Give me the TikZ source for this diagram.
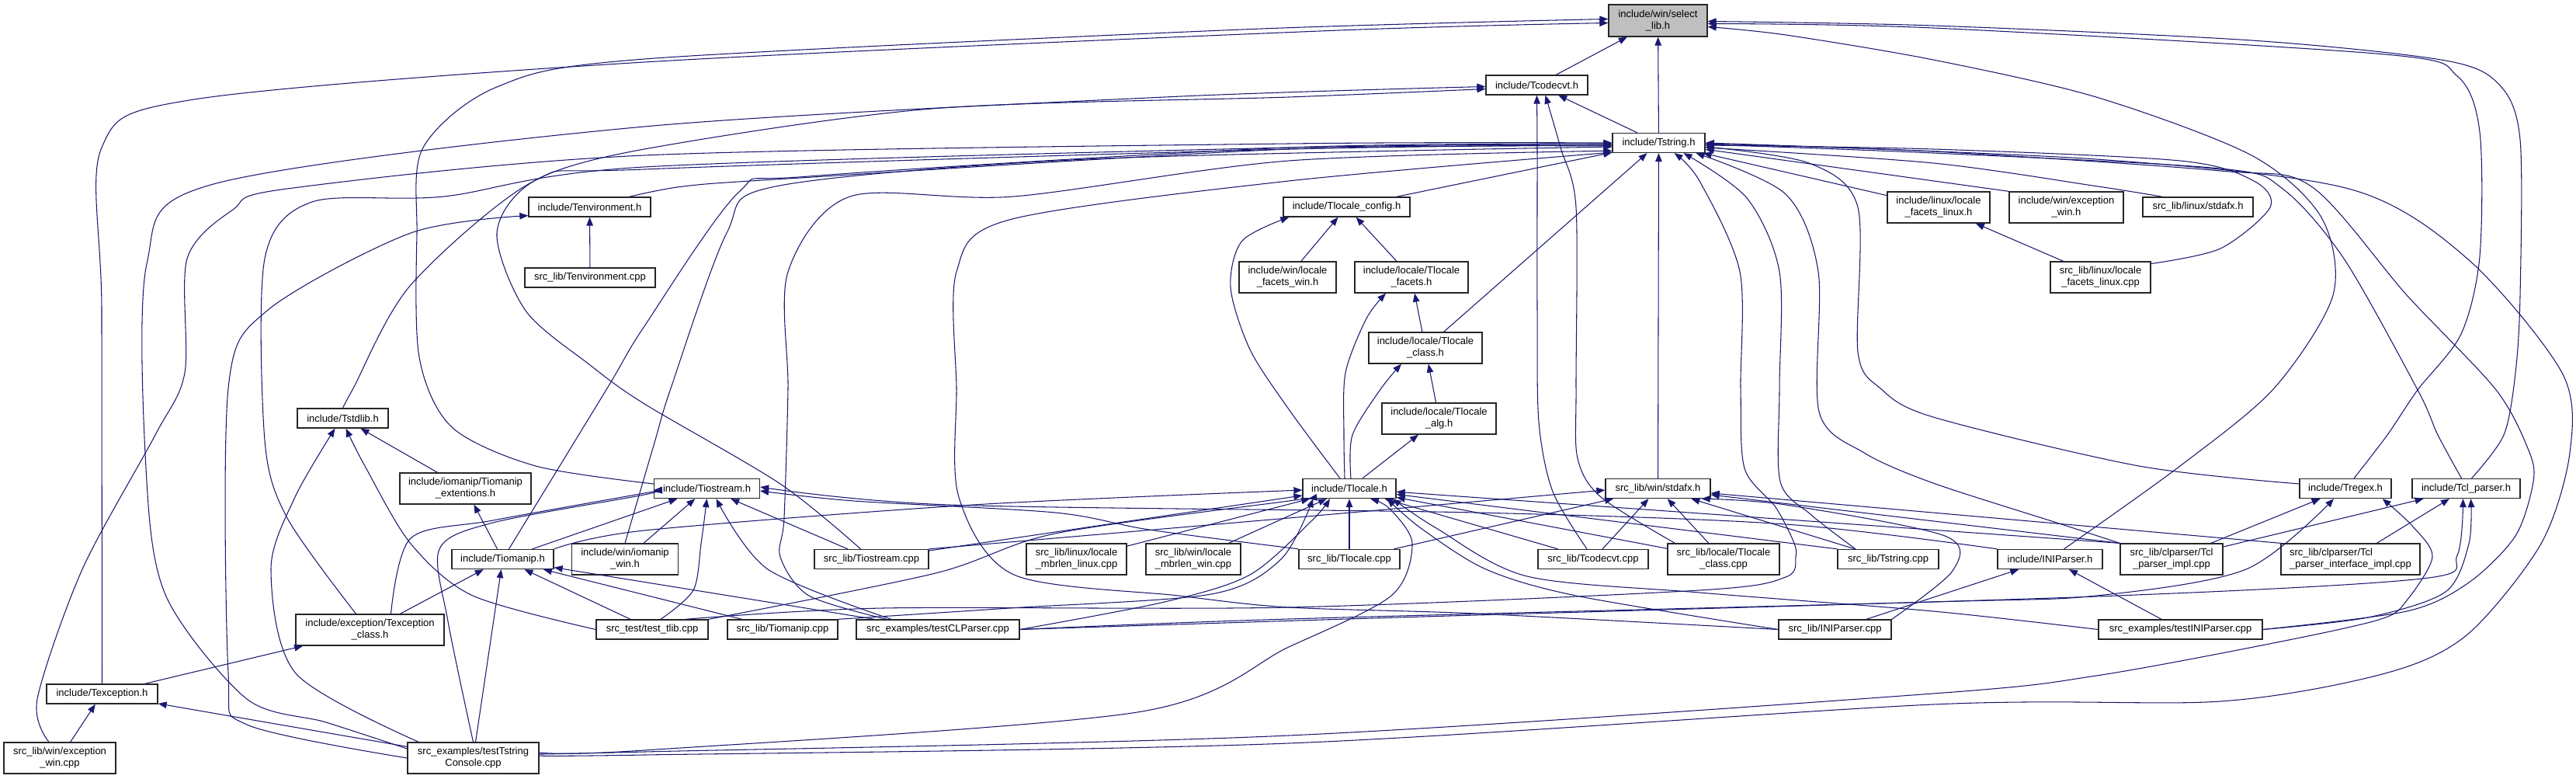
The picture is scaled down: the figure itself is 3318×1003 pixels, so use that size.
\documentclass[tikz,border=0pt]{standalone}
\usepackage{fontspec}
\setmainfont{Liberation Sans}
\usepackage{xcolor}
\definecolor{edgeblue}{HTML}{191970}
\definecolor{selgray}{HTML}{BFBFBF}
\usepackage{tikz}
\usetikzlibrary{arrows.meta,calc}

\begin{document}
\begin{tikzpicture}[
    x=0.02cm, y=-0.02cm,
    >={Triangle[length=0.22cm,width=0.17cm]},
    font=\fontsize{7.4}{8.6}\selectfont,
    file/.style={draw=black!85, fill=white, line width=0.75pt, inner sep=0pt, minimum height=0.5cm, align=center},
    file2/.style={file, minimum height=0.8cm},
    cur/.style={file, fill=selgray, minimum height=0.82cm},
    dep/.style={->, draw=edgeblue, line width=0.6pt},
  ]
  \useasboundingbox (0,0) rectangle (3318,1003);

  \node[cur,   minimum width=2.54cm] (sel)  at (2135.5,26.5) {include/win/select\\\_lib.h};
  \node[file,  minimum width=2.62cm] (cvt)  at (1979.5,109.5) {include/Tcodecvt.h};
  \node[file,  minimum width=2.38cm] (str)  at (2136.5,184) {include/Tstring.h};
  \node[file,  minimum width=3.26cm] (lcfg) at (1734.5,266.5) {include/Tlocale\_config.h};
  \node[file2, minimum width=2.50cm] (lfw)  at (1658.5,357) {include/win/locale\\\_facets\_win.h};
  \node[file2, minimum width=2.92cm] (lfac) at (1818,357) {include/locale/Tlocale\\\_facets.h};
  \node[file2, minimum width=2.92cm] (lcls) at (1836,448) {include/locale/Tlocale\\\_class.h};
  \node[file2, minimum width=2.94cm] (lalg) at (1853.5,539) {include/locale/Tlocale\\\_alg.h};
  \node[file2, minimum width=2.64cm] (lfl)  at (2497,267) {include/linux/locale\\\_facets\_linux.h};
  \node[file2, minimum width=2.94cm] (exw)  at (2661.5,267) {include/win/exception\\\_win.h};
  \node[file,  minimum width=2.84cm] (lstd) at (2831,266.5) {src\_lib/linux/stdafx.h};
  \node[file2, minimum width=2.58cm] (lflc) at (2705.5,357) {src\_lib/linux/locale\\\_facets\_linux.cpp};
  \node[file,  minimum width=3.14cm] (envh) at (759.5,266.5) {include/Tenvironment.h};
  \node[file,  minimum width=3.36cm] (envc) at (760,357.5) {src\_lib/Tenvironment.cpp};

  \node[file,  minimum width=2.34cm] (stdl) at (441.5,538.5) {include/Tstdlib.h};
  \node[file2, minimum width=3.38cm] (iext) at (599.5,629) {include/iomanip/Tiomanip\\\_extentions.h};
  \node[file,  minimum width=2.72cm] (ios)  at (910.5,629) {include/Tiostream.h};
  \node[file,  minimum width=2.40cm] (loc)  at (1738,629) {include/Tlocale.h};
  \node[file,  minimum width=2.70cm] (wstd) at (2135.5,629) {src\_lib/win/stdafx.h};
  \node[file,  minimum width=2.36cm] (rgx)  at (3021,629) {include/Tregex.h};
  \node[file,  minimum width=2.78cm] (tcl)  at (3176.5,629) {include/Tcl\_parser.h};

  \node[file,  minimum width=2.62cm] (iom)  at (647.5,720) {include/Tiomanip.h};
  \node[file2, minimum width=2.74cm] (iomw) at (805,720) {include/win/iomanip\\\_win.h};
  \node[file,  minimum width=2.94cm] (iosc) at (1122.5,720) {src\_lib/Tiostream.cpp};
  \node[file2, minimum width=2.58cm] (mbl)  at (1386.5,720) {src\_lib/linux/locale\\\_mbrlen\_linux.cpp};
  \node[file2, minimum width=2.44cm] (mbw)  at (1537,720) {src\_lib/win/locale\\\_mbrlen\_win.cpp};
  \node[file,  minimum width=2.60cm] (locc) at (1738,720) {src\_lib/Tlocale.cpp};
  \node[file,  minimum width=2.84cm] (cvtc) at (2052,720) {src\_lib/Tcodecvt.cpp};
  \node[file2, minimum width=2.88cm] (lclc) at (2220,720) {src\_lib/locale/Tlocale\\\_class.cpp};
  \node[file,  minimum width=2.60cm] (strc) at (2432,720) {src\_lib/Tstring.cpp};
  \node[file,  minimum width=2.70cm] (inih) at (2640.5,720) {include/INIParser.h};
  \node[file2, minimum width=2.64cm] (tpi)  at (2797,720) {src\_lib/clparser/Tcl\\\_parser\_impl.cpp};
  \node[file2, minimum width=3.58cm, align=left] (tpii) at (3027.5,720) {src\_lib/clparser/Tcl\\\_parser\_interface\_impl.cpp};

  \node[file2, minimum width=3.82cm] (excl) at (476.5,811) {include/exception/Texception\\\_class.h};
  \node[file,  minimum width=2.88cm] (ttl)  at (840,810.5) {src\_test/test\_tlib.cpp};
  \node[file,  minimum width=2.84cm] (iomc) at (1008,810.5) {src\_lib/Tiomanip.cpp};
  \node[file,  minimum width=4.20cm] (tclp) at (1208,810.5) {src\_examples/testCLParser.cpp};
  \node[file,  minimum width=2.90cm] (inic) at (2363.5,810.5) {src\_lib/INIParser.cpp};
  \node[file,  minimum width=4.22cm] (tinp) at (2808.5,810.5) {src\_examples/testINIParser.cpp};
  \node[file,  minimum width=2.86cm] (exh)  at (131.5,893.5) {include/Texception.h};
  \node[file2, minimum width=2.88cm] (exwc) at (77,976) {src\_lib/win/exception\\\_win.cpp};
  \node[file2, minimum width=3.38cm] (tsc)  at (609.5,976) {src\_examples/testTstring\\Console.cpp};

  \draw[dep] (cvt) -- (sel);
  \draw[dep] (str) -- (sel);
  \draw[dep] plot[smooth] coordinates {(exh.north) (131,400) (131,190) (250,128) (830,80) (1700,40) ($(sel.west)+(0,3)$)};
  \draw[dep] plot[smooth] coordinates {($(ios.west)+(0,-6)$) (690,600) (582,550) (540,460) (537,300) (545,190) (640,112) (830,76) (1600,38) ($(sel.west)+(0,-2)$)};
  \draw[dep] plot[smooth] coordinates {($(inih.north)+(18,0)$) (2808,600) (2929,500) (3005,380) (2990,280) (2900,200) (2700,125) (2490,77) (2300,45) ($(sel.east)+(0,8)$)};
  \draw[dep] plot[smooth] coordinates {($(rgx.north)+(11,0)$) (3075,560) (3114,502) (3170,430) (3194,330) (3194,170) (3165,98) (3072,70) (2490,36) ($(sel.east)+(0,4)$)};
  \draw[dep] plot[smooth] coordinates {($(tcl.north)+(7,0)$) (3225,560) (3240,480) (3246,380) (3246,180) (3220,110) (3150,78) (2900,52) (2490,33) ($(sel.east)+(0,1)$)};

  \draw[dep] (str) -- (cvt);
  \draw[dep] plot[smooth] coordinates {($(tsc.west)+(0,-12)$) (420,930) (318,900) (215,770) (189,620) (189,340) (275,237) (830,163) (1500,125) ($(cvt.west)+(0,2)$)};
  \draw[dep] plot[smooth] coordinates {($(iosc.north)+(-14,0)$) (1005,623) (830,520) (760,470) (677,400) (640,300) (688,233) (830,192) (1200,140) (1660,125) ($(cvt.west)+(0,5)$)};
  \draw[dep] plot[smooth] coordinates {($(cvtc.north)+(-8,0)$) (2000,633) (1982,543) (1980,400) (1980,200) (cvt.south)};
  \draw[dep] plot[smooth] coordinates {($(lclc.north west)+(10,0)$) (2062,640) (2032,590) (2030,500) (2030,267) (2010,190) ($(cvt.south)+(11,0)$)};

  \draw[dep] plot[smooth] coordinates {($(exwc.north)+(-14,0)$) (48,900) (106,733) (200,560) (238,480) (241,333) (300,270) (370,243) (830,200) (1660,185) (str.west)};
  \draw[dep] plot[smooth] coordinates {($(excl.north)+(-18,0)$) (370,667) (341,567) (341,333) (402,260) (572,253) (830,215) (1660,190) ($(str.west)+(0,2)$)};
  \draw[dep] plot[smooth] coordinates {(stdl.north) (455,500) (529,367) (688,233) (830,218) (1660,192) ($(str.west)+(0,3)$)};
  \draw[dep] plot[smooth] coordinates {($(envh.north east)+(-28,0)$) (880,240) (1015,230) (1660,192) ($(str.west)+(0,4)$)};
  \draw[dep] plot[smooth] coordinates {($(iom.north)+(8,0)$) (782,500) (830,420) (952,247) (1042,227) (1660,190) ($(str.west)+(0,1)$)};
  \draw[dep] plot[smooth] coordinates {(iomw.north) (843,570) (864,500) (936,300) (999,240) (1400,205) ($(str.west)+(0,5)$)};
  \draw[dep] plot[smooth] coordinates {($(tclp.north)+(-66,0)$) (1042,767) (1005,717) (1010,667) (1015,500) (1015,350) (1095,253) (1306,253) (1660,207) ($(str.south west)+(0,-3)$)};
  \draw[dep] plot[smooth] coordinates {(inic.west) (1900,790) (1660,782) (1518,767) (1306,740) (1235,640) (1232,500) (1232,350) (1300,283) (1660,233) ($(str.south west)+(0,-1)$)};
  \draw[dep] (lcfg) -- (str);
  \draw[dep] (lcls) -- (str);
  \draw[dep] (wstd) -- (str);
  \draw[dep] plot[smooth] coordinates {($(ttl.north east)+(-30,0)$) (1137,783) (1660,782) (2189,760) (2300,743) (2313,717) (2310,697) (2287,653) (2247,603) (2242,500) (2241,350) (2189,233) ($(str.south)+(20,0)$)};
  \draw[dep] plot[smooth] coordinates {($(strc.north)+(-42,0)$) (2333,663) (2293,620) (2292,500) (2292,350) (2250,255) ($(str.south)+(32,0)$)};
  \draw[dep] plot[smooth] coordinates {(tpi.north west) (2649,673) (2490,622) (2401,583) (2343,530) (2342,350) (2300,250) ($(str.south)+(48,0)$)};
  \draw[dep] (lfl) -- (str);
  \draw[dep] (exw.north west) -- (str);
  \draw[dep] plot[smooth] coordinates {($(lstd.north west)+(26,0)$) (2702,240) (2490,210) ($(str.east)+(0,6)$)};
  \draw[dep] plot[smooth] coordinates {(lflc.15) (2860,320) (2924,267) (2903,233) (2808,207) (2490,192) ($(str.east)+(0,3)$)};
  \draw[dep] plot[smooth] coordinates {($(rgx.west)+(0,-6)$) (2755,600) (2490,537) (2422,500) (2393,453) (2393,267) (2330,210) ($(str.east)+(0,5)$)};
  \draw[dep] plot[smooth] coordinates {($(tcl.north)+(-6,0)$) (3140,560) (3114,502) (3019,333) (2940,243) (2860,217) (2490,197) ($(str.east)+(0,2)$)};
  \draw[dep] plot[smooth] coordinates {(tinp.east) (3100,787) (3180,750) (3240,690) (3263,620) (3257,580) (3215,502) (3100,380) (2977,240) (2860,220) (2490,195) ($(str.east)+(0,1)$)};
  \draw[dep] plot[smooth] coordinates {($(tsc.east)+(0,-3)$) (830,972) (1660,957) (2490,907) (2860,903) (3072,867) (3178,817) (3273,700) (3310,583) (3300,480) (3178,333) (3025,243) (2700,205) (str.east)};

  \draw[dep] (lfw) -- (lcfg);
  \draw[dep] (lfac) -- (lcfg);
  \draw[dep] plot[smooth] coordinates {($(loc.north)+(-12,0)$) (1660,527) (1610,450) (1585,370) (1600,310) ($(lcfg.south west)+(8,0)$)};
  \draw[dep] (lcls) -- (lfac);
  \draw[dep] plot[smooth] coordinates {($(loc.north)+(-6,0)$) (1731,560) (1733,480) (1760,410) ($(lfac.south)+(-33,0)$)};
  \draw[dep] plot[smooth] coordinates {($(loc.north)+(2,0)$) (1742,560) (1779,500) ($(lcls.south)+(-31,0)$)};
  \draw[dep] (lalg) -- (lcls);
  \draw[dep] (loc) -- (lalg);
  \draw[dep] (lflc) -- (lfl);
  \draw[dep] (envc) -- (envh);
  \draw[dep] plot[smooth] coordinates {(tsc.west) (318,933) (294,867) (294,500) (344,400) (529,300) (envh.188)};

  \draw[dep] (iext) -- (stdl);
  \draw[dep] plot[smooth] coordinates {($(tsc.north west)+(15,0)$) (381,867) (349,733) (380,640) ($(stdl.south)+(-10,0)$)};
  \draw[dep] plot[smooth] coordinates {(ttl.west) (609,767) (529,700) (470,600) ($(stdl.south)+(4,0)$)};
  \draw[dep] (iom) -- (iext);
  \draw[dep] (excl) -- (iom);
  \draw[dep] (tsc) -- (iom);
  \draw[dep] (ttl) -- (iom);
  \draw[dep] (iomc) -- (iom);
  \draw[dep] (tclp) -- (iom);
  \draw[dep] (exh) -- (excl);
  \draw[dep] (exwc) -- (exh);
  \draw[dep] (tsc) -- (exh);

  \draw[dep] (iom) -- (ios);
  \draw[dep] (iomw) -- (ios);
  \draw[dep] plot[smooth] coordinates {($(ttl.north)+(11,0)$) (893,760) (903,700) (ios.south)};
  \draw[dep] plot[smooth] coordinates {($(tclp.north)+(-60,0)$) (989,733) ($(ios.south)+(12,0)$)};
  \draw[dep] (iosc) -- (ios);
  \draw[dep] plot[smooth] coordinates {(tsc.north) (577,800) (566,707) (635,673) (830,637) ($(ios.west)+(0,2)$)};
  \draw[dep] plot[smooth] coordinates {($(excl.north)+(27,0)$) (529,693) (635,670) (830,635) ($(ios.west)+(0,4)$)};
  \draw[dep] plot[smooth] coordinates {(locc.north west) (1480,682) (1359,660) (1100,645) ($(ios.east)+(0,3)$)};
  \draw[dep] plot[smooth] coordinates {(inih.north west) (2300,675) (1900,660) (1223,650) ($(ios.east)+(0,-2)$)};

  \draw[dep] (mbl) -- (loc);
  \draw[dep] (iosc) -- (loc);
  \draw[dep] plot[smooth] coordinates {(iom.north east) (830,683) (1253,650) ($(loc.west)+(0,2)$)};
  \draw[dep] plot[smooth] coordinates {(ttl.north east) (1205,738) (1359,687) (1660,645) ($(loc.south west)+(8,0)$)};
  \draw[dep] (mbw) -- (loc);
  \draw[dep] plot[smooth] coordinates {(tclp.east) (1500,775) (1610,740) (1690,670) ($(loc.south)+(-25,0)$)};
  \draw[dep] plot[smooth] coordinates {(iomc.north east) (1300,783) (1560,765) (1650,720) ($(loc.south west)+(14,0)$)};
  \draw[dep] (locc) -- (loc);
  \draw[dep] plot[smooth] coordinates {($(tsc.east)+(0,-7)$) (830,966) (1465,917) (1660,833) (1792,767) (1819,700) (1790,655) ($(loc.south)+(27,0)$)};
  \draw[dep] plot[smooth] coordinates {(inic.west) (2030,767) (1914,733) (1830,680) ($(loc.south east)+(-12,0)$)};
  \draw[dep] (cvtc) -- (loc);
  \draw[dep] (lclc) -- (loc);
  \draw[dep] (strc.north west) -- (loc);
  \draw[dep] (tpi.north west) -- (loc);
  \draw[dep] plot[smooth] coordinates {(tinp.west) (2490,787) (2189,763) (1967,742) (1850,680) ($(loc.south east)+(-5,0)$)};

  \draw[dep] plot[smooth] coordinates {(iosc.north east) (1660,667) ($(wstd.west)+(0,2)$)};
  \draw[dep] (locc) -- (wstd);
  \draw[dep] (cvtc) -- (wstd);
  \draw[dep] (lclc) -- (wstd);
  \draw[dep] (strc) -- (wstd);
  \draw[dep] plot[smooth] coordinates {(inic.north east) (2515,735) (2505,690) (2300,650) ($(wstd.south east)+(-12,0)$)};
  \draw[dep] (tpi.north west) -- (wstd);
  \draw[dep] (tpii.north west) -- (wstd);

  \draw[dep] (inic) -- (inih);
  \draw[dep] (tinp) -- (inih);
  \draw[dep] (tpi) -- (rgx);
  \draw[dep] plot[smooth] coordinates {(tclp.east) (1660,797) (2490,775) (2700,767) (2893,733) ($(rgx.south)+(-15,0)$)};
  \draw[dep] plot[smooth] coordinates {($(tsc.east)+(0,-5)$) (830,968) (1660,947) (2490,893) (2700,870) (2933,827) (3067,797) (3100,773) (3133,717) (3107,677) ($(rgx.south east)+(-12,0)$)};
  \draw[dep] (tpi) -- (tcl);
  \draw[dep] (tpii) -- (tcl);
  \draw[dep] plot[smooth] coordinates {(tclp.east) (1800,795) (2700,768) (3120,745) (3165,715) ($(tcl.south)+(-4,0)$)};
  \draw[dep] plot[smooth] coordinates {(tinp.east) (3050,795) (3150,762) (3180,700) ($(tcl.south)+(6,0)$)};
\end{tikzpicture}
\end{document}
